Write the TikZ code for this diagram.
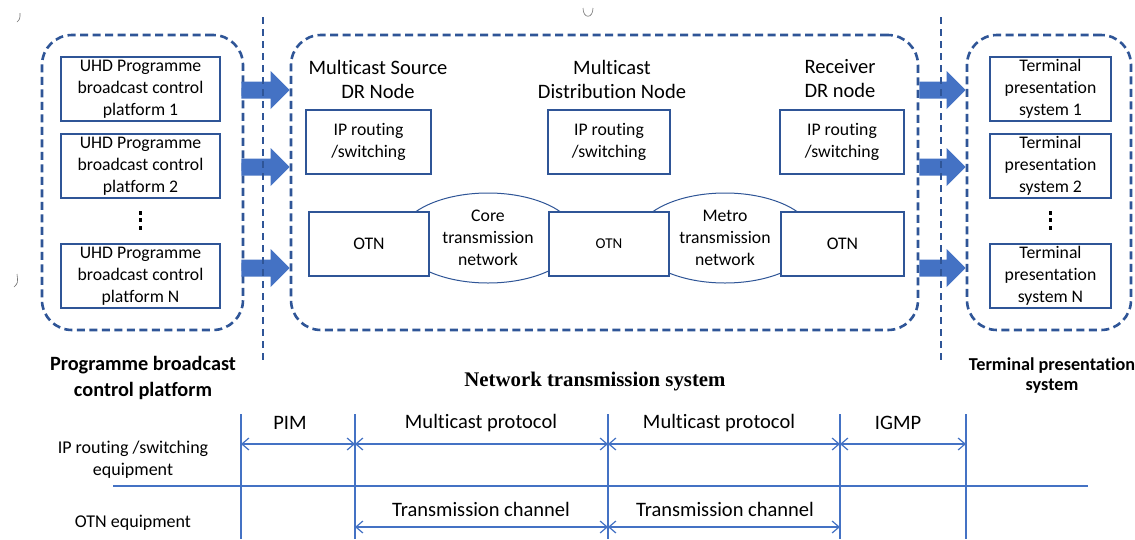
\documentclass[tikz,border=0pt]{standalone}
\usepackage{fontspec}
\setmainfont{Carlito}[Ligatures={NoCommon,NoContextual,NoRequired}]
\newfontfamily\timesfamily{Liberation Serif}
\usetikzlibrary{arrows.meta,shapes.geometric,calc}
\definecolor{frameblue}{HTML}{2F5597}
\definecolor{lineblue}{HTML}{4472C4}
\newcommand\fs[2]{\fontsize{#1}{#2}\selectfont}
% thick block arrow between two points at the height of the first one
\newcommand\fatarrow[2]{%
  \fill[lineblue] let \p1=(#1), \p2=(#2) in
    (\x1,\y1+8.5pt) -- (\x2-19pt,\y1+8.5pt) -- (\x2-19pt,\y1+19pt) -- (\x2,\y1)
    -- (\x2-19pt,\y1-19pt) -- (\x2-19pt,\y1-8.5pt) -- (\x1,\y1-8.5pt) -- cycle;}
\begin{document}
\begin{tikzpicture}[x=1pt,y=-1pt,
  groupbox/.style={draw=frameblue,line width=2.6pt,dash pattern=on 8pt off 4.5pt,
    rounded corners=30pt,inner sep=0pt},
  divider/.style={draw=frameblue,line width=2pt,dash pattern=on 7pt off 5pt},
  unitbox/.style={draw=frameblue,line width=2pt,fill=white,align=center,inner sep=0pt,
    font=\fs{17.7}{22}},
  netcloud/.style={draw=frameblue,line width=1pt,fill=white,ellipse,inner sep=0pt},
  txt/.style={align=center,inner sep=0pt,font=\fs{17.7}{22}},
  heading/.style={align=center,inner sep=0pt,font=\fs{20.5}{24}},
  grid/.style={draw=lineblue,line width=1.2pt},
  span/.style={grid,{Straight Barb[length=7pt,width=12pt]}-{Straight Barb[length=7pt,width=12pt]}},
  speck/.style={draw=black!55,line width=0.6pt},
]
\useasboundingbox (0,0) rectangle (1135,539);
\fill[white] (0,0) rectangle (1135,539);

% small marks at the edges
\draw[speck] (17,22) .. controls (20,19) .. (20,13);
\draw[speck] (14,287) .. controls (18,283) .. (17,274);
\draw[speck] (583,8) .. controls (583,19) and (593,19) .. (593,8);

% group frames
\node[groupbox,minimum width=201pt,minimum height=295pt] (srcgrp) at (142.5,182.5) {};
\node[groupbox,minimum width=627pt,minimum height=295pt] (netgrp) at (604.5,182.5) {};
\node[groupbox,minimum width=164pt,minimum height=295pt] (termgrp) at (1049,182.5) {};

% rows of the block arrows
\coordinate (r1) at (0,90);
\coordinate (r2) at (0,167);
\coordinate (r3) at (0,268);
\foreach \r in {r1,r2,r3}{
  \fatarrow{$(srcgrp.east |- \r)+(-3,0)$}{netgrp.west |- \r}
  \fatarrow{netgrp.east |- \r}{termgrp.west |- \r}
}

% dividers
\coordinate (dl0) at (263,17);
\coordinate (dl1) at (263,362);
\coordinate (dr0) at (941,17);
\coordinate (dr1) at (941,362);
\draw[divider] (dl0) -- (dl1);
\draw[divider] (dr0) -- (dr1);

% programme broadcast control platforms
\node[unitbox,minimum width=159pt,minimum height=64pt] (p1) at (140.5,89)
  {UHD Programme\\broadcast control\\platform 1};
\node[unitbox,minimum width=159pt,minimum height=64pt] (p2) at (140.5,166)
  {UHD Programme\\broadcast control\\platform 2};
\node[unitbox,minimum width=159pt,minimum height=64pt] (pN) at (140.5,276)
  {UHD Programme\\broadcast control\\platform N};
\node[inner sep=0pt] (pdots) at (140.5,220) {};
\foreach \d in {-7.5,0,7.5}
  \fill ($(pdots)+(-1.8,\d-2)$) rectangle ++(3.6,4);

% terminal presentation systems
\node[unitbox,minimum width=121pt,minimum height=64pt] (t1) at (1050.5,89)
  {Terminal\\presentation\\system 1};
\node[unitbox,minimum width=121pt,minimum height=64pt] (t2) at (1050.5,166)
  {Terminal\\presentation\\system 2};
\node[unitbox,minimum width=121pt,minimum height=64pt] (tN) at (1050.5,276)
  {Terminal\\presentation\\system N};
\node[inner sep=0pt] (tdots) at (1050.5,220) {};
\foreach \d in {-7.5,0,7.5}
  \fill ($(tdots)+(-1.8,\d-2)$) rectangle ++(3.6,4);

% network transmission system
\node[heading] (srcdr) at (378,79) {Multicast Source\\DR Node};
\node[heading] (distn) at (612,79) {Multicast\\Distribution Node};
\node[heading] (rcvdr) at (840,79) {Receiver\\DR node};

\node[unitbox,minimum width=125pt,minimum height=64pt] (ip1) at (368.5,141.5) {IP routing\\/switching};
\node[unitbox,minimum width=122pt,minimum height=64pt] (ip2) at (609,141.5) {IP routing\\/switching};
\node[unitbox,minimum width=124pt,minimum height=64pt] (ip3) at (842,141.5) {IP routing\\/switching};

\node[netcloud,minimum width=178pt,minimum height=90pt] (core) at (488,238) {};
\node[netcloud,minimum width=178pt,minimum height=90pt] (metro) at (725,238) {};
\node[txt] (coretxt) at (core) {Core\\transmission\\network};
\node[txt] (metrotxt) at (metro) {Metro\\transmission\\network};

\node[unitbox,minimum width=120pt,minimum height=64pt] (otn1) at (369,244) {OTN};
\node[unitbox,minimum width=120pt,minimum height=64pt,font=\fs{15}{18}] (otn2) at (609,244) {OTN};
\node[unitbox,minimum width=123pt,minimum height=64pt] (otn3) at (842.5,244) {OTN};

% captions of the three parts
\node[align=center,inner sep=0pt,font=\fs{20.3}{26}\bfseries] (srccap) at (143,378)
  {Programme broadcast\\control platform};
\node[inner sep=0pt,font=\fs{20.8}{24}\timesfamily\bfseries] (netcap) at (595,382)
  {Network transmission system};
\node[align=center,inner sep=0pt,font=\fs{18.2}{20}\bfseries] (termcap) at (1052,376)
  {Terminal presentation\\system};

% protocol table
\foreach \x in {241,355,608,840,966}
  \draw[grid] (\x,414) -- (\x,539);
\draw[grid] (113,486) -- (1088,486);
\draw[span] (241,444) -- (355,444);
\draw[span] (355,444) -- (608,444);
\draw[span] (608,444) -- (840,444);
\draw[span] (840,444) -- (966,444);
\draw[span] (355,527) -- (608,527);
\draw[span] (608,527) -- (840,527);

\node[txt,font=\fs{20.5}{22}] (pim) at (290,423) {PIM};
\node[txt,font=\fs{20.5}{22}] (mp1) at (481,423) {Multicast protocol};
\node[txt,font=\fs{20.5}{22}] (mp2) at (719,423) {Multicast protocol};
\node[txt,font=\fs{20.5}{22}] (igmp) at (898,423) {IGMP};
\node[txt,font=\fs{20.5}{22}] (tc1) at (481,509) {Transmission channel};
\node[txt,font=\fs{20.5}{22}] (tc2) at (725,509) {Transmission channel};
\node[txt,font=\fs{18}{22}] (iprow) at (133,460) {IP routing /switching\\equipment};
\node[txt,font=\fs{18}{22}] (otnrow) at (133,523) {OTN equipment};
\end{tikzpicture}
\end{document}
